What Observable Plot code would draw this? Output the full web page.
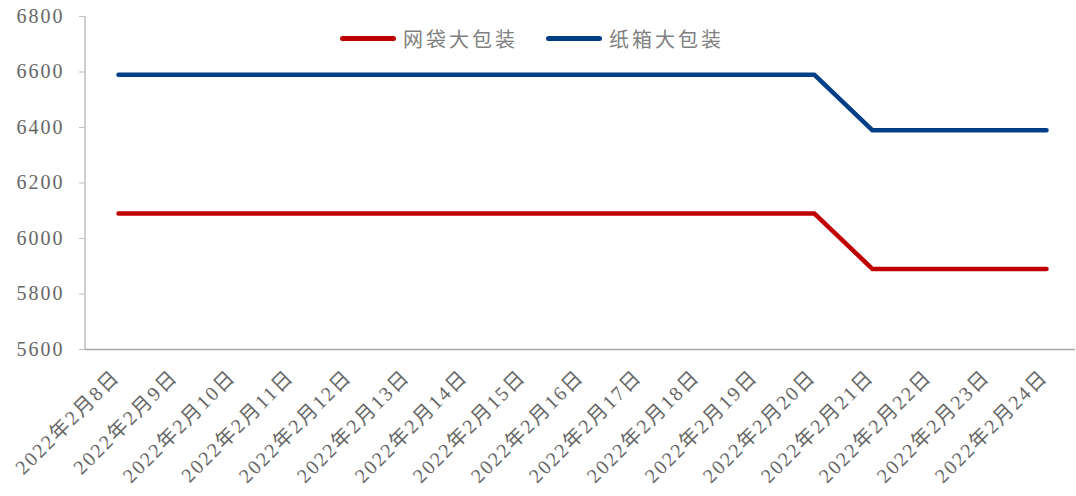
<!DOCTYPE html>
<html>
<head>
<meta charset="utf-8">
<script src="https://cdn.jsdelivr.net/npm/d3@7"></script>
<script src="https://cdn.jsdelivr.net/npm/@observablehq/plot@0.6"></script>
<style>
  html, body { margin: 0; padding: 0; background: #fff; }
  #wrap { position: relative; width: 1076px; height: 496px; }
  #legend { position: absolute; top: 24px; left: 340px; display: flex; align-items: center;
    font-family: "Liberation Serif", "Noto Sans CJK SC", serif; font-size: 20px; color: #7f7f7f; letter-spacing: 3px; }
  .sw { display: inline-block; width: 56px; height: 5px; border-radius: 3px; margin-right: 7px; }
  .item { display: flex; align-items: center; margin-right: 28px; }
</style>
</head>
<body>
<div id="wrap">
  <div id="chart"></div>
  <div id="legend"></div>
</div>
<script>
const dates = ["2022年2月8日","2022年2月9日","2022年2月10日","2022年2月11日","2022年2月12日","2022年2月13日","2022年2月14日","2022年2月15日","2022年2月16日","2022年2月17日","2022年2月18日","2022年2月19日","2022年2月20日","2022年2月21日","2022年2月22日","2022年2月23日","2022年2月24日"];
const seriesNames = ["网袋大包装", "纸箱大包装"];
const meshBag = [6090,6090,6090,6090,6090,6090,6090,6090,6090,6090,6090,6090,6090,5890,5890,5890,5890];
const cartonBox = [6590,6590,6590,6590,6590,6590,6590,6590,6590,6590,6590,6590,6590,6390,6390,6390,6390];
const colors = ["#C00000", "#003F87"];
const yTicks = [5600, 5800, 6000, 6200, 6400, 6600, 6800];

const data = [];
dates.forEach((d, i) => {
  data.push({date: d, value: meshBag[i], series: seriesNames[0]});
  data.push({date: d, value: cartonBox[i], series: seriesNames[1]});
});

const chart = Plot.plot({
  width: 1076,
  height: 496,
  marginLeft: 85,
  marginRight: 1,
  marginTop: 16,
  marginBottom: 147,
  style: {fontFamily: "'Liberation Serif', 'Noto Sans CJK SC', serif", background: "#fff"},
  x: {type: "point", domain: dates, range: [113, 1050], padding: 0, label: null},
  y: {domain: [5600, 6800], label: null},
  color: {domain: seriesNames, range: colors},
  marks: [
    Plot.axisY({ticks: yTicks, tickFormat: d => String(d), tickSize: 6, tickPadding: 15, fontSize: 20, color: "#666666", stroke: "#bfbfbf", label: null}),
    Plot.axisX({tickSize: 0, tickRotate: -45, tickPadding: 8, dy: 16, dx: -2, fontSize: 20, color: "#666666", label: null}),
    Plot.ruleY([5600], {stroke: "#a6a6a6", strokeWidth: 1.5}),
    Plot.line(data, {x: "date", y: "value", z: "series", stroke: "series", strokeWidth: 4.5, strokeLinecap: "round", strokeLinejoin: "round"})
  ]
});
document.getElementById("chart").appendChild(chart);

d3.select(chart).select('g[aria-label="y-axis tick label"]').style("letter-spacing", "2px");
d3.select(chart).select('g[aria-label="x-axis tick label"]').style("letter-spacing", "2px");

const ys = chart.scale("y");
d3.select(chart).append("line")
  .attr("x1", 85).attr("x2", 85)
  .attr("y1", ys.apply(6800)).attr("y2", ys.apply(5600))
  .attr("stroke", "#bfbfbf").attr("stroke-width", 1.5);

const legend = document.getElementById("legend");
seriesNames.forEach((n, i) => {
  const it = document.createElement("div");
  it.className = "item";
  it.innerHTML = `<span class="sw" style="background:${colors[i]}"></span><span>${n}</span>`;
  legend.appendChild(it);
});
</script>
</body>
</html>
